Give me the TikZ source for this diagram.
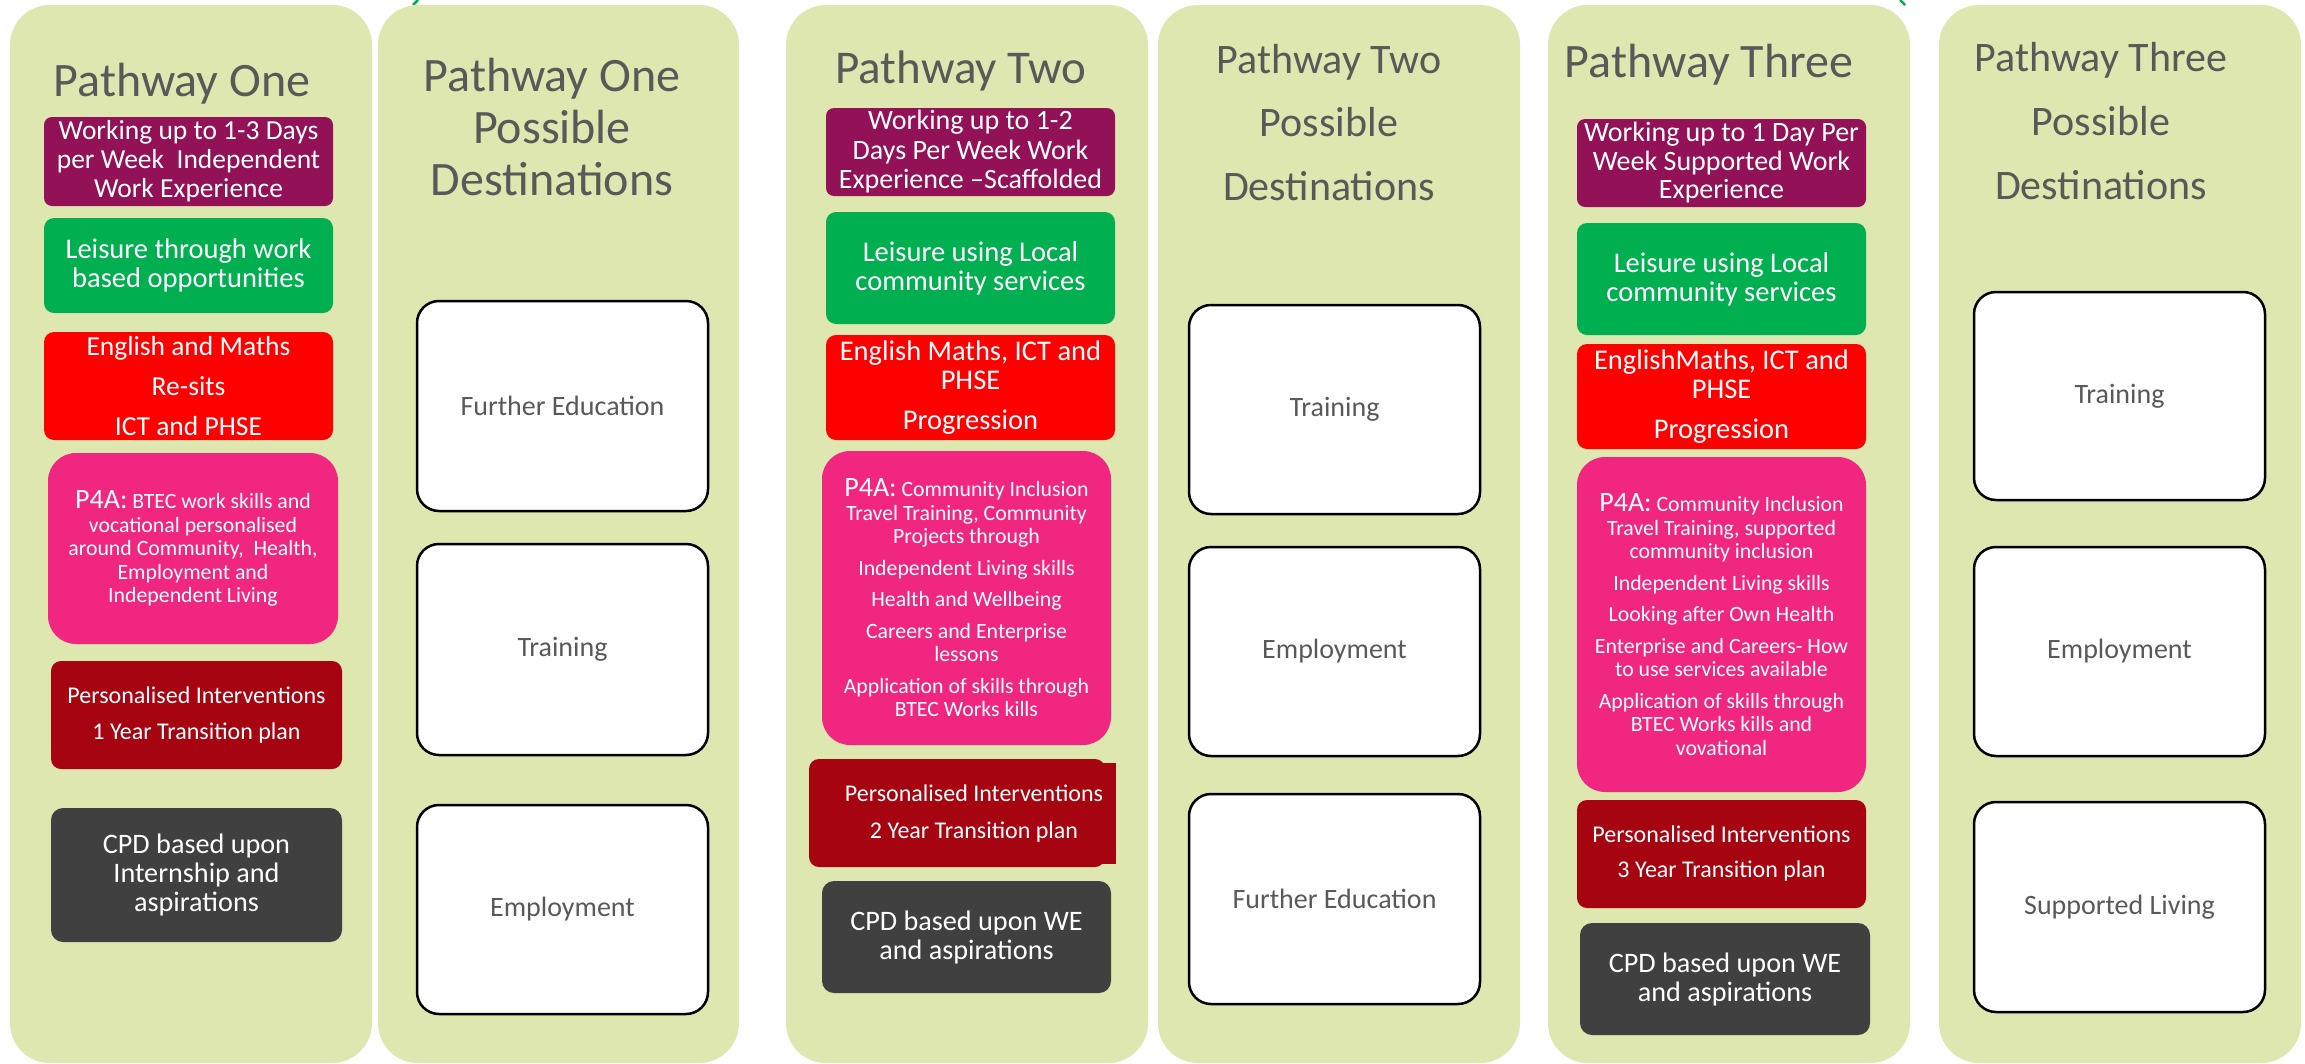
\documentclass[tikz,border=0pt]{standalone}
\usepackage{fontspec}
\setmainfont{Carlito}
\definecolor{colgreen}{RGB}{222,231,175}
\definecolor{purp}{RGB}{146,17,87}
\definecolor{lgreen}{RGB}{0,176,80}
\definecolor{bred}{RGB}{255,0,0}
\definecolor{pink}{RGB}{240,38,128}
\definecolor{dred}{RGB}{166,4,16}
\definecolor{dgray}{RGB}{64,64,64}
\definecolor{titlegray}{RGB}{89,89,89}
\definecolor{destgray}{RGB}{89,89,89}
\newcommand\fsz[2]{\fontsize{#1}{#2}\selectfont}
\begin{document}
\begin{tikzpicture}[x=1pt,y=-1pt,
  column/.style={fill=colgreen, draw=none, rounded corners=40pt, inner sep=0pt},
  cbox/.style={draw=none, inner sep=0pt, align=center, text=white, rounded corners=10pt},
  pinkbox/.style={cbox, fill=pink, rounded corners=28pt, font=\fsz{21.8}{23.5}},
  dest/.style={fill=white, draw=black, line width=2.5pt, rounded corners=22pt, inner sep=0pt,
    minimum width=291pt, text=destgray, font=\fsz{28}{30}},
  title/.style={text=titlegray, inner sep=0pt, align=center},
  frag/.style={draw=lgreen, line width=2.5pt}
]
\useasboundingbox (0,0) rectangle (2305,1063);
\fill[white] (0,0) rectangle (2305,1063);

% small green fragments at the top edge
\draw[frag] (418,0) -- (413,5);
\draw[frag] (1900,0) -- (1905,5);

% columns
\node[column, minimum width=362pt, minimum height=1058pt] (col1) at (191,534) {};
\node[column, minimum width=361pt, minimum height=1058pt] (col2) at (558.5,534) {};
\node[column, minimum width=362pt, minimum height=1058pt] (col3) at (967,534) {};
\node[column, minimum width=362pt, minimum height=1058pt] (col4) at (1339,534) {};
\node[column, minimum width=362pt, minimum height=1058pt] (col5) at (1729,534) {};
\node[column, minimum width=362pt, minimum height=1058pt] (col6) at (2120,534) {};

% ---------------- Pathway One ----------------
\node[title, anchor=base, font=\fsz{48}{52}] (t1) at (182,96) {Pathway One};
\node[cbox, fill=purp, minimum width=289pt, minimum height=89pt, rounded corners=8pt, font=\fsz{27.5}{29}]
  (p1a) at (188.5,161.5) {Working up to 1-3 Days\\per Week\ \ Independent\\Work Experience};
\node[cbox, fill=lgreen, minimum width=289pt, minimum height=95pt, font=\fsz{28.5}{29}]
  (p1b) at (188.5,265.5) {Leisure through work\\based opportunities};
\node[cbox, fill=bred, minimum width=289pt, minimum height=108pt, font=\fsz{27.5}{29}]
  (p1c) at (188.5,386) {English and Maths\\[11pt]Re-sits\\[11pt]ICT and PHSE};
\node[pinkbox, minimum width=290pt, minimum height=191pt]
  (p1d) at (193,548.5) {{\fsz{28}{29}P4A:} BTEC work skills and\\vocational personalised\\around Community,\ \ Health,\\Employment and\\Independent Living};
\node[cbox, fill=dred, minimum width=291pt, minimum height=108pt, font=\fsz{24}{25}]
  (p1e) at (196.5,715) {Personalised Interventions\\[11pt]1 Year Transition plan};
\node[cbox, fill=dgray, minimum width=291pt, minimum height=134pt, rounded corners=12pt, font=\fsz{28.2}{29}]
  (p1f) at (196.5,875) {CPD based upon\\Internship and\\aspirations};

% ---------------- Pathway One destinations ----------------
\node[title, font=\fsz{48}{52}] (t2) at (552,127) {Pathway One\\Possible\\Destinations};
\node[dest, minimum height=210pt] (d1a) at (562.5,406) {Further Education};
\node[dest, minimum height=211pt] (d1b) at (562.5,649.5) {Training};
\node[dest, minimum height=209pt] (d1c) at (562.5,909.5) {Employment};

% ---------------- Pathway Two ----------------
\node[title, anchor=base, font=\fsz{47}{52}] (t3) at (961,83) {Pathway Two};
\node[cbox, fill=purp, minimum width=289pt, minimum height=88pt, rounded corners=8pt, font=\fsz{28}{29.5}]
  (p2a) at (970.5,152) {Working up to 1-2\\Days Per Week Work\\Experience –Scaffolded};
\node[cbox, fill=lgreen, minimum width=289pt, minimum height=112pt, font=\fsz{28.5}{29}]
  (p2b) at (970.5,268) {Leisure using Local\\community services};
\node[cbox, fill=bred, minimum width=289pt, minimum height=105pt, font=\fsz{28.5}{29}]
  (p2c) at (970.5,387.5) {English Maths, ICT and\\PHSE\\[11pt]Progression};
\node[pinkbox, minimum width=289pt, minimum height=294pt]
  (p2d) at (966.5,598) {{\fsz{28}{29}P4A:} Community Inclusion\\Travel Training, Community\\Projects through\\[8pt]Independent Living skills\\[8pt]Health and Wellbeing\\[8pt]Careers and Enterprise\\lessons\\[8pt]Application of skills through\\BTEC Works kills};
\node[cbox, fill=dred, minimum width=296pt, minimum height=108pt] (p2e) at (957,813) {};
\fill[dred] (1085,763) rectangle (1116,864);
\node[inner sep=0pt, align=center, text=white, font=\fsz{24}{25}]
  (p2et) at (974,814) {Personalised Interventions\\[12pt]2 Year Transition plan};
\node[cbox, fill=dgray, minimum width=289pt, minimum height=112pt, rounded corners=12pt, font=\fsz{28.2}{29}]
  (p2f) at (966.5,937) {CPD based upon WE\\and aspirations};

% ---------------- Pathway Two destinations ----------------
\node[title, font=\fsz{42}{63.5}] (t4) at (1329,122.5) {Pathway Two\\Possible\\Destinations};
\node[dest, minimum height=209pt] (d2a) at (1334.5,409.5) {Training};
\node[dest, minimum height=209pt] (d2b) at (1334.5,651.5) {Employment};
\node[dest, minimum height=210pt] (d2c) at (1334.5,899) {Further Education};

% ---------------- Pathway Three ----------------
\node[title, anchor=base, font=\fsz{48}{52}] (t5) at (1709,77) {Pathway Three};
\node[cbox, fill=purp, minimum width=289pt, minimum height=88pt, rounded corners=8pt, font=\fsz{28}{28.5}]
  (p3a) at (1721.5,163) {Working up to 1 Day Per\\Week Supported Work\\Experience};
\node[cbox, fill=lgreen, minimum width=289pt, minimum height=112pt, font=\fsz{28.5}{29}]
  (p3b) at (1721.5,279) {Leisure using Local\\community services};
\node[cbox, fill=bred, minimum width=289pt, minimum height=105pt, font=\fsz{28.5}{29}]
  (p3c) at (1721.5,396.5) {EnglishMaths, ICT and\\PHSE\\[11pt]Progression};
\node[pinkbox, minimum width=289pt, minimum height=335pt]
  (p3d) at (1721.5,624.5) {{\fsz{28}{29}P4A:} Community Inclusion\\Travel Training, supported\\community inclusion\\[8pt]Independent Living skills\\[8pt]Looking after Own Health\\[8pt]Enterprise and Careers- How\\to use services available\\[8pt]Application of skills through\\BTEC Works kills and\\vovational};
\node[cbox, fill=dred, minimum width=289pt, minimum height=108pt, font=\fsz{24}{25}]
  (p3e) at (1721.5,854) {Personalised Interventions\\[10pt]3 Year Transition plan};
\node[cbox, fill=dgray, minimum width=290pt, minimum height=112pt, rounded corners=12pt, font=\fsz{28.2}{29}]
  (p3f) at (1725,979) {CPD based upon WE\\and aspirations};

% ---------------- Pathway Three destinations ----------------
\node[title, font=\fsz{42}{64}] (t6) at (2101,121) {Pathway Three\\Possible\\Destinations};
\node[dest, minimum height=208pt] (d3a) at (2119.5,396) {Training};
\node[dest, minimum height=209pt] (d3b) at (2119.5,651.5) {Employment};
\node[dest, minimum height=210pt] (d3c) at (2119.5,907) {Supported Living};
\end{tikzpicture}
\end{document}
